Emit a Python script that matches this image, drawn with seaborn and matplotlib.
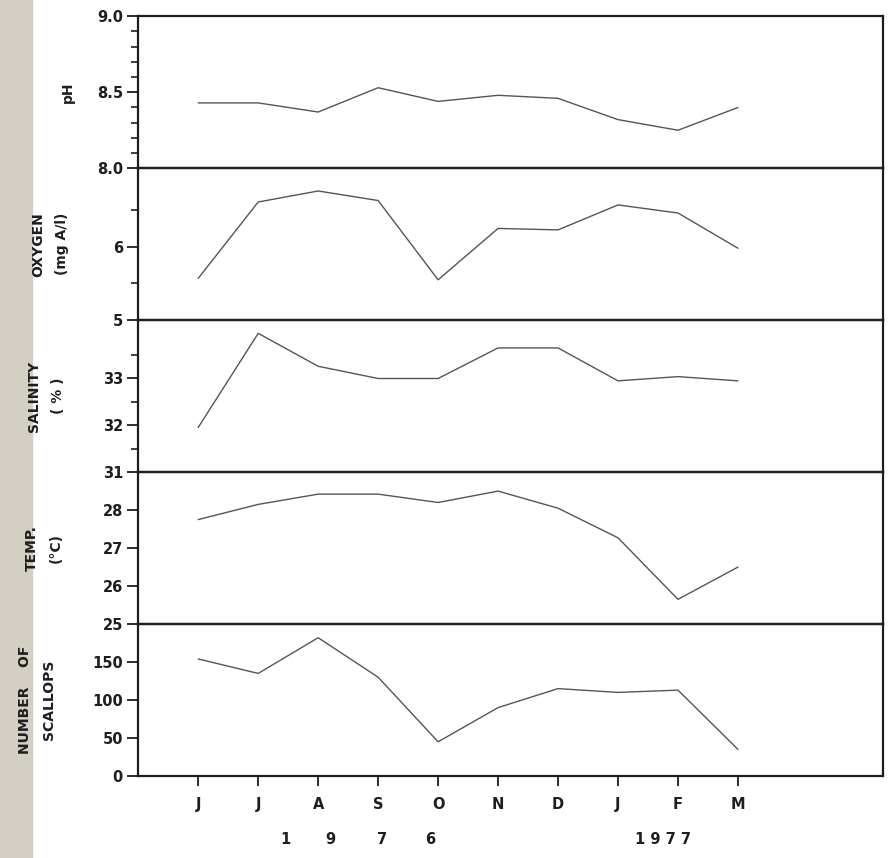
import matplotlib
matplotlib.use("Agg")
import matplotlib.pyplot as plt
from matplotlib.patches import Rectangle
from matplotlib.ticker import FixedLocator, MultipleLocator
import seaborn as sns
import pandas as pd

# === 1. Monthly data (June 1976 - March 1977) ===
months = ['J', 'J', 'A', 'S', 'O', 'N', 'D', 'J', 'F', 'M']
ph = [8.43, 8.43, 8.37, 8.53, 8.44, 8.48, 8.46, 8.32, 8.25, 8.40]
oxygen = [5.57, 6.61, 6.76, 6.63, 5.55, 6.25, 6.23, 6.57, 6.46, 5.98]
salinity = [31.95, 33.95, 33.25, 32.99, 32.99, 33.64, 33.64, 32.94, 33.03, 32.94]
temp = [27.75, 28.15, 28.42, 28.42, 28.20, 28.50, 28.05, 27.27, 25.65, 26.50]
scallops = [154, 135, 182, 130, 45, 90, 115, 110, 113, 35]

df = pd.DataFrame({'pos': range(len(months)), 'pH': ph, 'Oxygen': oxygen,
                   'Salinity': salinity, 'Temp': temp, 'Scallops': scallops})

# panel setup: column, y range, labelled ticks, minor ticks, y label, label x
panels = [
    ('pH', (8.0, 9.0), [8.0, 8.5, 9.0], None, 'pH', -0.085),
    ('Oxygen', (5.0, 7.07), [5, 6], [5.5, 6.5], 'OXYGEN\n(mg A/l)', -0.093),
    ('Salinity', (31.0, 34.23), [31, 32, 33], [31.5, 32.5, 33.5], 'SALINITY\n( % )', -0.098),
    ('Temp', (25.0, 29.0), [25, 26, 27, 28], None, 'TEMP.\n(°C)', -0.102),
    ('Scallops', (0, 200), [0, 50, 100, 150], None, 'NUMBER    OF\nSCALLOPS', -0.111),
]

# === 2. Figure ===
sns.set_style('ticks')
plt.rcParams['font.family'] = ['DejaVu Sans']
line_col = '#555555'
ink = '#1e1e1e'

fig, axes = plt.subplots(5, 1, figsize=(8.92, 8.58), dpi=100, sharex=True)
fig.subplots_adjust(left=0.155, right=0.99, top=0.981, bottom=0.0956, hspace=0)

# scanned paper edge on the left (behind everything)
fig.patches.append(Rectangle((0, 0), 0.036, 1, transform=fig.transFigure,
                             color='#d3cfc4', zorder=-10))

for ax, (col, ylim, major, minor, label, lx) in zip(axes, panels):
    ax.patch.set_alpha(0)
    sns.lineplot(data=df, x='pos', y=col, ax=ax, color=line_col, lw=1.0)
    ax.set_ylim(*ylim)
    ax.yaxis.set_major_locator(FixedLocator(major))
    if col == 'pH':
        ax.yaxis.set_major_formatter(plt.FuncFormatter(lambda v, p: f'{v:.1f}'))
        ax.yaxis.set_minor_locator(MultipleLocator(0.1))
    else:
        ax.yaxis.set_major_formatter(plt.FuncFormatter(lambda v, p: f'{v:g}'))
        if minor:
            ax.yaxis.set_minor_locator(FixedLocator(minor))
    ax.tick_params(axis='y', which='major', direction='out', length=8, width=1.3,
                   color=ink, labelsize=10.5, pad=3)
    ax.tick_params(axis='y', which='minor', direction='out', length=5, width=1.2, color=ink)
    for t in ax.get_yticklabels():
        t.set_fontweight('bold')
        t.set_color(ink)
    ax.set_ylabel(label, fontsize=10, fontweight='bold', color=ink,
                  linespacing=1.9, multialignment='center')
    ax.yaxis.set_label_coords(lx, 0.5)
    ax.set_xlabel('')
    for s in ax.spines.values():
        s.set_visible(True)
        s.set_linewidth(1.6)
        s.set_color(ink)

# === 3. Month axis ===
bottom = axes[-1]
bottom.set_xlim(-1.0, 11.42)
bottom.set_xticks(df['pos'])
bottom.set_xticklabels(months, fontsize=10.5, fontweight='bold', color=ink)
bottom.tick_params(axis='x', direction='out', length=7, width=1.3, color=ink, pad=8)
for ax in axes[:-1]:
    ax.tick_params(axis='x', length=0)

trans = bottom.get_xaxis_transform()
for x, ch in zip([1.45, 2.20, 3.07, 3.87], ['1', '9', '7', '6']):
    bottom.text(x, -0.42, ch, transform=trans, ha='center', va='center',
                fontsize=10.5, fontweight='bold', color=ink)
bottom.text(7.75, -0.42, '1 9 7 7', transform=trans, ha='center', va='center',
            fontsize=10.5, fontweight='bold', color=ink)

plt.savefig('out.png', dpi=100)
